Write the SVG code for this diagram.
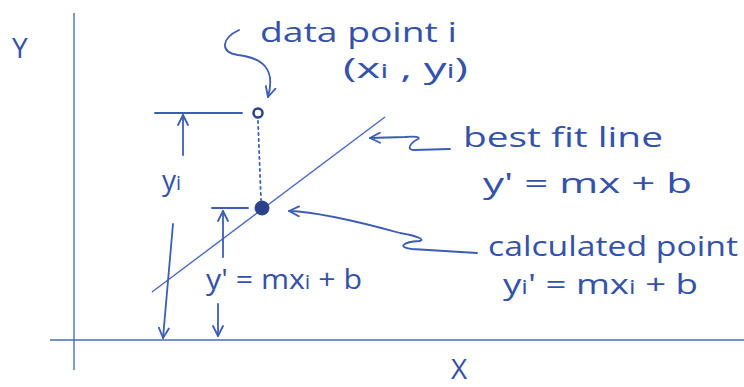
<svg xmlns="http://www.w3.org/2000/svg" width="744" height="387" viewBox="0 0 744 387">
<defs>
<style>
.ink{stroke:#3d5cb5;stroke-width:1.8;fill:none;stroke-linecap:round;stroke-linejoin:round}
.thin{stroke:#4a68c2;stroke-width:1.4;fill:none}
.t{font-family:"Open Sans","Liberation Sans",sans-serif;fill:#3552aa;font-size:28px}
.sub{font-size:20px}
</style>
<marker id="ah" viewBox="0 0 12 12" refX="11" refY="6" markerWidth="12" markerHeight="12" markerUnits="userSpaceOnUse" orient="auto">
<path d="M1,1 L11,6 L1,11" fill="none" stroke="#3d5cb5" stroke-width="1.8" stroke-linecap="round" stroke-linejoin="round"/>
</marker>
</defs>
<rect width="744" height="387" fill="#ffffff"/>
<g id="axes">
<line class="thin" x1="74" y1="13" x2="74" y2="370"/>
<line class="thin" x1="50" y1="340" x2="744" y2="340"/>
<text class="t" x="12" y="58" font-size="32">Y</text>
<text class="t" x="451" y="379" font-size="26">X</text>
</g>
<g id="best-fit-line">
<line class="thin" x1="152" y1="292" x2="385" y2="117"/>
</g>
<g id="data-point">
<circle cx="258" cy="113" r="4.5" fill="#ffffff" stroke="#2c3f8a" stroke-width="2.5"/>
<text class="t" x="260" y="42" textLength="197" lengthAdjust="spacingAndGlyphs">data point i</text>
<text class="t" x="343" y="78" textLength="125" lengthAdjust="spacingAndGlyphs">(x<tspan class="sub">i</tspan> , y<tspan class="sub">i</tspan>)</text>
</g>
<g id="calculated-point">
<circle cx="262" cy="208" r="7" fill="#2c3f8a" stroke="#2c3f8a" stroke-width="1"/>
</g>
<g id="labels">
<text class="t" x="463" y="147" textLength="200" lengthAdjust="spacingAndGlyphs">best fit line</text>
<text class="t" x="483" y="193" font-size="30" textLength="209" lengthAdjust="spacingAndGlyphs">y' = mx + b</text>
<text class="t" x="488" y="256" font-size="24" textLength="250" lengthAdjust="spacingAndGlyphs">calculated point</text>
<text class="t" x="503" y="294" font-size="26" textLength="195" lengthAdjust="spacingAndGlyphs">y<tspan class="sub">i</tspan>' = mx<tspan class="sub">i</tspan> + b</text>
<text class="t" x="162" y="190">y<tspan class="sub">i</tspan></text>
<text class="t" x="206" y="289" font-size="27" textLength="156" lengthAdjust="spacingAndGlyphs">y' = mx<tspan class="sub">i</tspan> + b</text>
</g>
<g id="connectors">
<line class="ink" x1="258" y1="121" x2="261" y2="200" stroke-dasharray="2 4"/>
<line class="ink" x1="155" y1="113" x2="242" y2="113"/>
<line class="ink" x1="183" y1="155" x2="183" y2="115" marker-end="url(#ah)"/>
<line class="ink" x1="173" y1="224" x2="163" y2="338" marker-end="url(#ah)"/>
<line class="ink" x1="212" y1="208" x2="248" y2="208"/>
<line class="ink" x1="223" y1="257" x2="223" y2="211" marker-end="url(#ah)"/>
<line class="ink" x1="218" y1="304" x2="218" y2="336" marker-end="url(#ah)"/>
<path class="ink" d="M 239 30 C 222 38, 219 52, 238 55 C 262 58, 276 68, 268 97" marker-end="url(#ah)"/>
<path class="ink" d="M 450 149 L 414 150 C 406 150, 410 143, 418 139 C 421 137, 415 136, 405 137 L 370 138" marker-end="url(#ah)"/>
<path class="ink" d="M 477 253 L 412 249 C 396 247, 404 242, 419 241 C 426 240, 418 236, 400 233 C 360 222, 320 212, 289 211" marker-end="url(#ah)"/>
</g>
</svg>
